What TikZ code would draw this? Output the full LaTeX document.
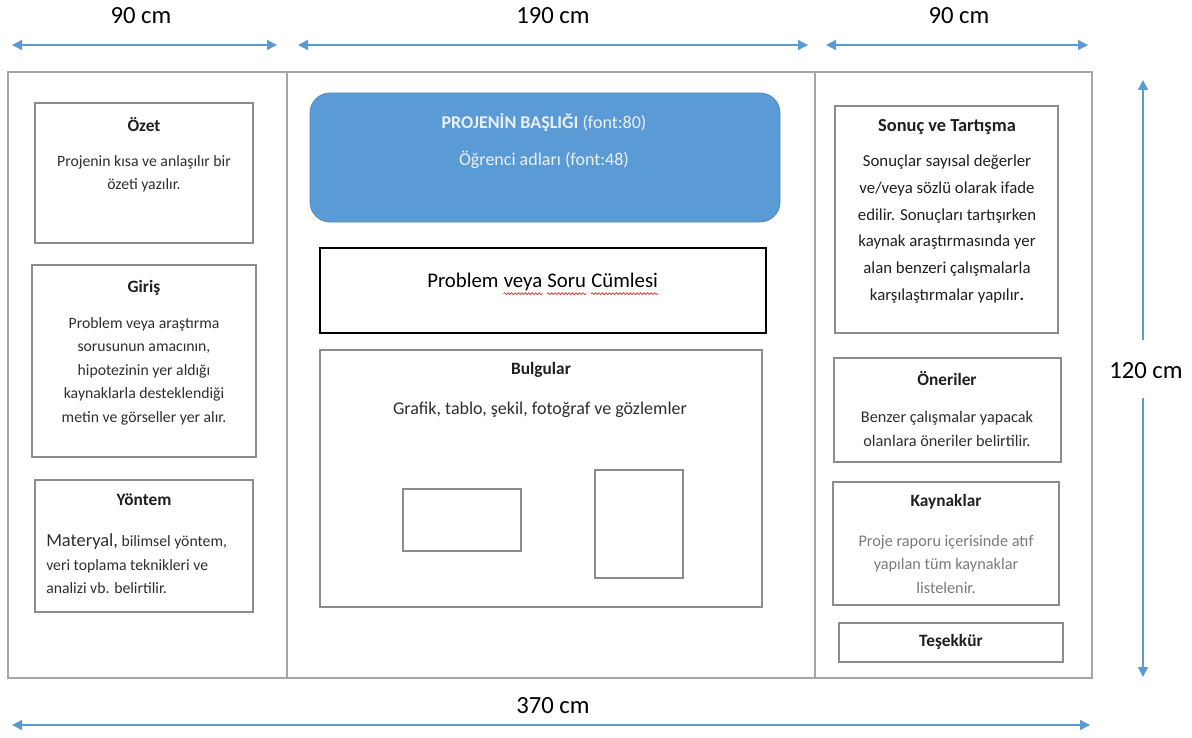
\documentclass[tikz,border=0pt]{standalone}
\usepackage{fontspec}
\setmainfont{Carlito}
\usetikzlibrary{arrows.meta,fit,decorations.pathmorphing}
\definecolor{dimblue}{HTML}{5B9BD5}
\definecolor{titleblue}{HTML}{5B9BD5}
\definecolor{titletext}{HTML}{EAF0F8}
\definecolor{framegray}{HTML}{A6A6A6}
\definecolor{boxgray}{HTML}{8C8C8C}
\definecolor{bodygray}{HTML}{2E2E2E}
\definecolor{darktext}{HTML}{1F1F1F}
\definecolor{lightgray}{HTML}{7A7A7A}
\definecolor{wavered}{HTML}{E02020}
\begin{document}
\begin{tikzpicture}[x=0.75pt,y=-0.75pt,
  dimline/.style={draw=dimblue, line width=1.1pt, arrows={Triangle[width=7.5pt,length=7.5pt]-Triangle[width=7.5pt,length=7.5pt]}},
  dimhalf/.style={draw=dimblue, line width=1.1pt, arrows={-Triangle[width=7.5pt,length=7.5pt]}},
  dimlabel/.style={font=\fontsize{18.5}{20}\selectfont, text=black, inner sep=1pt},
  panel/.style={draw=framegray, line width=1.1pt, inner sep=0pt},
  divider/.style={draw=framegray, line width=1.1pt},
  infobox/.style={draw=boxgray, line width=1.1pt, inner sep=0pt},
  smallbox/.style={draw=boxgray, line width=1.1pt, inner sep=0pt},
  probbox/.style={draw=black, line width=1.1pt, inner sep=0pt},
  headbox/.style={fill=titleblue, draw=titleblue!90!black, line width=0.6pt, rounded corners=15pt, inner sep=0pt},
  boxtitle/.style={font=\bfseries\fontsize{13}{15}\selectfont, text=darktext, inner sep=0pt},
  leftbody/.style={font=\fontsize{11.8}{17.6}\selectfont, text=bodygray, align=center, inner sep=0pt},
  rightbody/.style={font=\fontsize{12.6}{20}\selectfont, text=darktext, align=center, inner sep=0pt},
  headtext/.style={font=\fontsize{13.5}{15}\selectfont, text=titletext, inner sep=0pt},
  probword/.style={font=\fontsize{15.6}{18}\selectfont, text=black, inner sep=0pt, anchor=base west},
  wavy/.style={draw=wavered, line width=0.5pt, decorate, decoration={snake, segment length=2.6pt, amplitude=0.7pt}}
]
\useasboundingbox (0,0) rectangle (1192,738);

% ---------- dimension arrows ----------
\coordinate (a1l) at (12,45);  \coordinate (a1r) at (277,45);
\coordinate (a2l) at (298,45); \coordinate (a2r) at (808,45);
\coordinate (a3l) at (826,45); \coordinate (a3r) at (1088,45);
\coordinate (abl) at (12,725); \coordinate (abr) at (1090,725);
\coordinate (vt) at (1143,80); \coordinate (vb) at (1143,677);
\coordinate (vg1) at (1143,340); \coordinate (vg2) at (1143,398);

\draw[dimline] (a1l) -- (a1r);
\draw[dimline] (a2l) -- (a2r);
\draw[dimline] (a3l) -- (a3r);
\draw[dimline] (abl) -- (abr);

\node[dimlabel] (l90a) at (141,16) {90 cm};
\node[dimlabel] (l190) at (553,16) {190 cm};
\node[dimlabel] (l90b) at (959,16) {90 cm};
\node[dimlabel] (l370) at (553,706) {370 cm};
\node[dimlabel] (l120) at (1146,371) {120 cm};

\draw[dimhalf] (vg1) -- (vt);
\draw[dimhalf] (vg2) -- (vb);

% ---------- poster frame ----------
\node[panel, fit={(8,72) (1092,678)}] (poster) {};
\coordinate (d1t) at (287,72); \coordinate (d1b) at (287,678);
\coordinate (d2t) at (815,72); \coordinate (d2b) at (815,678);
\draw[divider] (d1t) -- (d1b);
\draw[divider] (d2t) -- (d2b);

% ---------- left column ----------
\node[infobox, fit={(35,103) (253,243)}] (ozet) {};
\node[boxtitle] (ozett) at (144,125) {Özet};
\node[leftbody] (ozetb) at (144,174) {Projenin kısa ve anlaşılır bir\\özeti yazılır.};

\node[infobox, fit={(32,265) (256,457)}] (giris) {};
\node[boxtitle] (girist) at (144,288) {Giriş};
\node[leftbody] (girisb) at (144,371) {Problem veya araştırma\\sorusunun amacının,\\hipotezinin yer aldığı\\kaynaklarla desteklendiği\\metin ve görseller yer alır.};

\node[infobox, fit={(35,480) (253,612)}] (yontem) {};
\node[boxtitle] (yontemt) at (144,500) {Yöntem};
\node[leftbody, align=left, anchor=west] (yontemb) at (46,564) {{\fontsize{13.8}{17.6}\selectfont Materyal,} bilimsel yöntem,\\veri toplama teknikleri ve\\analizi vb. belirtilir.};

% ---------- centre column ----------
\node[headbox, fit={(310,93) (780,222)}] (head) {};
\node[headtext] (headt) at (544,122) {\textbf{PROJENİN BAŞLIĞI} (font:80)};
\node[headtext] (heads) at (544,160) {Öğrenci adları (font:48)};

\node[probbox, fit={(320,248) (766,333)}] (prob) {};
\node[probword] (w1) at (427,287) {Problem};
\node[probword] (w2) at ([xshift=3.5pt]w1.base east) {veya};
\node[probword] (w3) at ([xshift=3.5pt]w2.base east) {Soru};
\node[probword] (w4) at ([xshift=3.5pt]w3.base east) {Cümlesi};
\draw[wavy] ([yshift=-5pt]w2.base west) -- ([yshift=-5pt]w2.base east);
\draw[wavy] ([yshift=-5pt]w3.base west) -- ([yshift=-5pt]w3.base east);
\draw[wavy] ([yshift=-5pt]w4.base west) -- ([yshift=-5pt]w4.base east);

\node[infobox, fit={(320,350) (762,607)}] (bulgu) {};
\node[boxtitle] (bulgut) at (541,370) {Bulgular};
\node[leftbody, font=\fontsize{13.5}{15}\selectfont] (bulgub) at (540,410) {Grafik, tablo, şekil, fotoğraf ve gözlemler};
\node[smallbox, fit={(403,489) (521,551)}] (img1) {};
\node[smallbox, fit={(595,470) (683,578)}] (img2) {};

% ---------- right column ----------
\node[infobox, fit={(835,106) (1058,333)}] (sonuc) {};
\node[boxtitle, font=\bfseries\fontsize{13.8}{15}\selectfont] (sonuct) at (947,127) {Sonuç ve Tartışma};
\node[rightbody] (sonucb) at (947,229) {Sonuçlar sayısal değerler\\ve/veya sözlü olarak ifade\\edilir. Sonuçları tartışırken\\kaynak araştırmasında yer\\alan benzeri çalışmalarla\\karşılaştırmalar yapılır\textbf{.}};

\node[infobox, fit={(834,358) (1061,462)}] (oneri) {};
\node[boxtitle] (onerit) at (947,379) {Öneriler};
\node[leftbody, font=\fontsize{12.2}{17.6}\selectfont] (oneriby) at (947,429) {Benzer çalışmalar yapacak\\olanlara öneriler belirtilir.};

\node[infobox, fit={(833,482) (1059,605)}] (kaynak) {};
\node[boxtitle] (kaynakt) at (946,502) {Kaynaklar};
\node[leftbody, font=\fontsize{12.2}{17.6}\selectfont, text=lightgray] (kaynakb) at (946,564) {Proje raporu içerisinde atıf\\yapılan tüm kaynaklar\\listelenir.};

\node[infobox, fit={(839,623) (1063,662)}] (tesek) {};
\node[boxtitle] (tesekt) at (951,642) {Teşekkür};
\end{tikzpicture}
\end{document}
